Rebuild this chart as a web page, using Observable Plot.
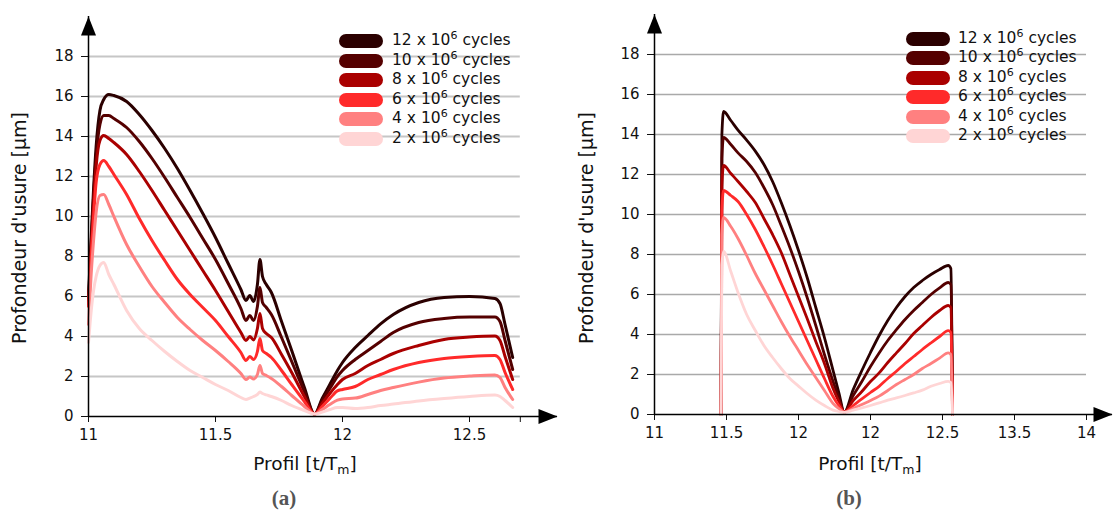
<!DOCTYPE html>
<html><head><meta charset="utf-8">
<script src="https://cdn.jsdelivr.net/npm/d3@7"></script>
<script src="https://cdn.jsdelivr.net/npm/@observablehq/plot@0.6"></script>
<style>
body{margin:0;background:#fff;font-family:"DejaVu Sans",sans-serif;}
#wrap{position:relative;width:1113px;height:515px;overflow:hidden;background:#fff;}
.panel{position:absolute;top:0;}
.panel svg{display:block;max-width:none;}
.xlabel{position:absolute;font-size:18.5px;line-height:1;transform:translate(-50%,-50%);white-space:nowrap;color:#111;}
.ylabel{position:absolute;font-size:19px;line-height:1;transform:translate(-50%,-50%) rotate(-90deg);white-space:nowrap;color:#111;}
.xlabel sub,.ylabel sub{font-size:12.5px;vertical-align:-4px;line-height:0;}
.cap{position:absolute;font-family:"Liberation Serif",serif;font-weight:bold;font-size:21px;line-height:1;color:#555;transform:translate(-50%,-50%);}
.sw{position:absolute;width:44px;height:14px;border-radius:7px;transform:translateY(-50%);}
.lt{position:absolute;font-size:15.5px;line-height:1;white-space:nowrap;transform:translateY(-50%);color:#111;}
.lt sup{font-size:11px;line-height:0;vertical-align:6px;}
</style>
</head><body>
<div id="wrap"></div>
<script>
// ---- data ----
const cycles = [12, 10, 8, 6, 4, 2];
const colors = ["#2b0000", "#550000", "#aa0000", "#ff2a2a", "#ff8080", "#ffd5d5"];
const yTicks = [0, 2, 4, 6, 8, 10, 12, 14, 16, 18];
const gridValues = [2, 4, 6, 8, 10, 12, 14, 16, 18];

// panel (a)
const xa = [11.0, 11.01, 11.02, 11.03, 11.045, 11.06, 11.08, 11.1, 11.15, 11.2, 11.25, 11.3, 11.35, 11.4, 11.45, 11.5, 11.55, 11.6, 11.62, 11.635, 11.65, 11.665, 11.675, 11.685, 11.7, 11.72, 11.76, 11.8, 11.85, 11.89, 11.92, 11.95, 11.98, 12.0, 12.05, 12.1, 12.15, 12.2, 12.3, 12.4, 12.5, 12.6, 12.62, 12.64, 12.67];
const a12 = [6.0, 8.8, 11.4, 13.5, 15.3, 15.85, 16.1, 16.05, 15.75, 15.1, 14.3, 13.4, 12.4, 11.3, 10.15, 8.95, 7.65, 6.35, 5.8, 6.05, 5.75, 6.6, 7.85, 7.0, 6.6, 6.2, 4.75, 3.3, 1.45, 0.12, 0.9, 1.6, 2.3, 2.7, 3.45, 4.05, 4.63, 5.1, 5.7, 5.95, 6.0, 5.9, 5.65, 4.6, 2.95];
const a10 = [5.8, 8.5, 11.0, 13.0, 14.6, 15.05, 15.05, 14.9, 14.45, 13.75, 12.9, 11.95, 10.95, 9.95, 8.9, 7.85, 6.65, 5.4, 4.8, 5.05, 4.8, 5.5, 6.45, 5.7, 5.45, 5.1, 3.95, 2.75, 1.25, 0.12, 0.8, 1.4, 2.0, 2.3, 2.85, 3.3, 3.75, 4.2, 4.7, 4.9, 4.97, 4.97, 4.75, 3.8, 2.35];
const a8 = [5.6, 8.2, 10.6, 12.5, 13.8, 14.05, 13.9, 13.7, 13.1, 12.25, 11.3, 10.3, 9.3, 8.3, 7.3, 6.3, 5.25, 4.2, 3.8, 4.0, 3.83, 4.4, 5.15, 4.4, 4.15, 3.95, 3.1, 2.2, 1.0, 0.12, 0.65, 1.15, 1.6, 1.85, 2.15, 2.55, 2.85, 3.15, 3.55, 3.85, 3.97, 4.02, 3.8, 3.0, 1.85];
const a6 = [5.5, 7.9, 10.0, 11.7, 12.6, 12.8, 12.5, 12.1, 11.1, 9.9, 8.8, 7.8, 6.85, 6.1, 5.45, 4.8, 4.0, 3.2, 2.8, 3.0, 2.85, 3.25, 3.9, 3.3, 3.15, 2.95, 2.3, 1.6, 0.75, 0.12, 0.5, 0.9, 1.28, 1.35, 1.5, 1.85, 2.1, 2.35, 2.7, 2.9, 3.0, 3.05, 2.85, 2.2, 1.35];
const a4 = [4.6, 7.0, 8.8, 10.2, 11.05, 11.1, 10.6, 10.0, 8.6, 7.5, 6.5, 5.7, 4.95, 4.35, 3.8, 3.3, 2.75, 2.15, 1.85, 1.97, 1.88, 2.1, 2.55, 2.15, 2.05, 1.9, 1.5, 1.05, 0.5, 0.12, 0.35, 0.6, 0.82, 0.88, 0.92, 1.1, 1.3, 1.45, 1.72, 1.92, 2.02, 2.08, 1.95, 1.45, 0.85];
const a2 = [3.7, 5.2, 6.3, 7.0, 7.55, 7.7, 7.1, 6.6, 5.3, 4.4, 3.8, 3.25, 2.75, 2.3, 1.95, 1.6, 1.3, 0.95, 0.85, 0.92, 1.0, 1.1, 1.22, 1.15, 1.08, 1.0, 0.8, 0.55, 0.3, 0.12, 0.22, 0.35, 0.45, 0.45, 0.4, 0.45, 0.55, 0.62, 0.78, 0.9, 1.0, 1.07, 1.0, 0.8, 0.45];
const xTicksA = [11, 11.5, 12, 12.5, 12.7];
const xTickLabelsA = ["11", "11.5", "12", "12.5", ""];

// panel (b)
const xb = [11.462, 11.468, 11.48, 11.53, 11.58, 11.64, 11.7, 11.76, 11.82, 11.88, 11.94, 12.0, 12.06, 12.12, 12.18, 12.24, 12.28, 12.318, 12.38, 12.44, 12.5, 12.56, 12.62, 12.68, 12.74, 12.8, 12.86, 12.92, 12.98, 13.04, 13.058, 13.07];
const b12 = [0, 14.0, 15.15, 14.7, 14.22, 13.72, 13.17, 12.5, 11.65, 10.6, 9.45, 8.2, 6.85, 5.35, 3.85, 2.2, 1.1, 0.12, 1.25, 2.2, 3.1, 3.95, 4.7, 5.35, 5.9, 6.35, 6.7, 7.0, 7.25, 7.45, 7.3, 0];
const b10 = [0, 12.8, 13.85, 13.5, 13.08, 12.65, 12.1, 11.35, 10.5, 9.45, 8.35, 7.15, 5.85, 4.45, 3.0, 1.65, 0.85, 0.12, 0.95, 1.65, 2.4, 3.08, 3.7, 4.24, 4.75, 5.2, 5.6, 6.0, 6.33, 6.6, 6.5, 0];
const b8 = [0, 11.4, 12.45, 12.05, 11.65, 11.15, 10.6, 9.8, 9.0, 8.1, 7.0, 5.9, 4.8, 3.65, 2.55, 1.3, 0.65, 0.12, 0.7, 1.15, 1.65, 2.08, 2.6, 3.08, 3.55, 4.05, 4.45, 4.85, 5.2, 5.45, 5.35, 0];
const b6 = [0, 10.2, 11.2, 10.95, 10.65, 10.0, 9.25, 8.4, 7.5, 6.55, 5.6, 4.65, 3.7, 2.75, 1.8, 0.9, 0.45, 0.12, 0.45, 0.78, 1.1, 1.41, 1.8, 2.16, 2.55, 2.9, 3.25, 3.58, 3.9, 4.19, 4.1, 0];
const b4 = [0, 9.0, 9.85, 9.4, 8.8, 7.95, 7.05, 6.25, 5.45, 4.65, 3.9, 3.2, 2.5, 1.85, 1.2, 0.55, 0.3, 0.12, 0.3, 0.5, 0.7, 0.92, 1.2, 1.5, 1.75, 2.0, 2.3, 2.55, 2.82, 3.08, 3.0, 0];
const b2 = [0, 7.5, 8.15, 7.15, 6.1, 5.0, 4.2, 3.45, 2.85, 2.3, 1.8, 1.42, 1.05, 0.72, 0.45, 0.22, 0.15, 0.1, 0.22, 0.33, 0.45, 0.58, 0.72, 0.83, 0.95, 1.08, 1.22, 1.41, 1.55, 1.66, 1.6, 0];
const xTicksB = [11, 11.5, 12, 12.5, 13, 13.5, 14];
const xTickLabelsB = ["11", "11.5", "12", "12", "12.5", "13.5", "14"];

// ---- drawing ----
const arrowHead = {
  draw(ctx) { // tip at origin, pointing up
    ctx.moveTo(0, 0);
    ctx.lineTo(-7.5, 19);
    ctx.lineTo(7.5, 19);
    ctx.closePath();
  }
};

function panel(cfg) {
  const data = [];
  cycles.forEach((c, i) => cfg.series[i].forEach((v, j) => data.push({x: cfg.xs[j], y: v, c})));
  const fmt = d => cfg.labels[cfg.ticks.indexOf(d)] ?? "";
  return Plot.plot({
    width: cfg.width, height: 456,
    marginLeft: cfg.ml, marginRight: cfg.mr, marginTop: cfg.mt, marginBottom: 456 - cfg.y0,
    x: {domain: cfg.xdomain, ticks: cfg.ticks, tickFormat: fmt, tickSize: 6, tickPadding: 7, label: null},
    y: {domain: [0, 20], ticks: yTicks, tickSize: 7, tickPadding: 8, label: null},
    color: {type: "ordinal", domain: cycles, range: colors},
    style: {fontFamily: "DejaVu Sans", fontSize: "15px", color: "#111", background: "transparent", overflow: "visible"},
    marks: [
      Plot.ruleY(gridValues, {x1: cfg.xdomain[0], x2: cfg.gridEnd, stroke: cfg.gridColor, strokeWidth: cfg.gridWidth}),
      Plot.line(data, {x: "x", y: "y", z: "c", stroke: "c", strokeWidth: cfg.lw, curve: "monotone-x", strokeLinejoin: "round", strokeLinecap: "round"}),
      Plot.ruleY([0], {stroke: "#000", strokeWidth: 1.5}),
      Plot.ruleX([cfg.xdomain[0]], {stroke: "#000", strokeWidth: 1.5}),
      Plot.dot([{x: cfg.xdomain[1], y: 0}], {x: "x", y: "y", symbol: arrowHead, fill: "#000", stroke: "none", rotate: 90}),
      Plot.dot([{x: cfg.xdomain[0], y: 20}], {x: "x", y: "y", symbol: arrowHead, fill: "#000", stroke: "none"})
    ]
  });
}

const wrap = document.getElementById("wrap");
function add(el, left) { const d = document.createElement("div"); d.className = "panel"; d.style.left = left + "px"; d.appendChild(el); wrap.appendChild(d); return d; }

add(panel({
  width: 560, ml: 88, mr: 3, mt: 16, y0: 416,
  xdomain: [11, 11 + 469 / 254], gridEnd: 12.7,
  gridColor: "#c6c6c6", gridWidth: 2, lw: 3,
  xs: xa, series: [a12, a10, a8, a6, a4, a2],
  ticks: xTicksA, labels: xTickLabelsA
}), 0);
add(panel({
  width: 553, ml: 94, mr: 1, mt: 14, y0: 414,
  xdomain: [11, 11 + 458 / 144], gridEnd: 14,
  gridColor: "#a9a9a9", gridWidth: 1.4, lw: 2.8,
  xs: xb, series: [b12, b10, b8, b6, b4, b2],
  ticks: xTicksB, labels: xTickLabelsB
}), 560);

function html(cls, x, y, content) {
  const d = document.createElement("div"); d.className = cls;
  d.style.left = x + "px"; d.style.top = y + "px"; d.innerHTML = content; wrap.appendChild(d);
}
const xLabel = "Profil [t/T<sub>m</sub>]";
const yLabel = "Profondeur d'usure [µm]";
html("xlabel", 305, 464, xLabel);
html("xlabel", 870, 464, xLabel);
html("ylabel", 19, 228, yLabel);
html("ylabel", 586, 228, yLabel);
html("cap", 284, 498, "(a)");
html("cap", 849, 498, "(b)");

function legend(swX, txtX, y0) {
  cycles.forEach((c, i) => {
    const y = y0 + i * 19.5;
    const s = document.createElement("div"); s.className = "sw";
    s.style.left = swX + "px"; s.style.top = y + "px"; s.style.background = colors[i];
    wrap.appendChild(s);
    html("lt", txtX, y, `${c} x 10<sup>6</sup> cycles`);
  });
}
legend(339, 392, 41);
legend(906, 958, 38.5);
</script>
</body></html>
